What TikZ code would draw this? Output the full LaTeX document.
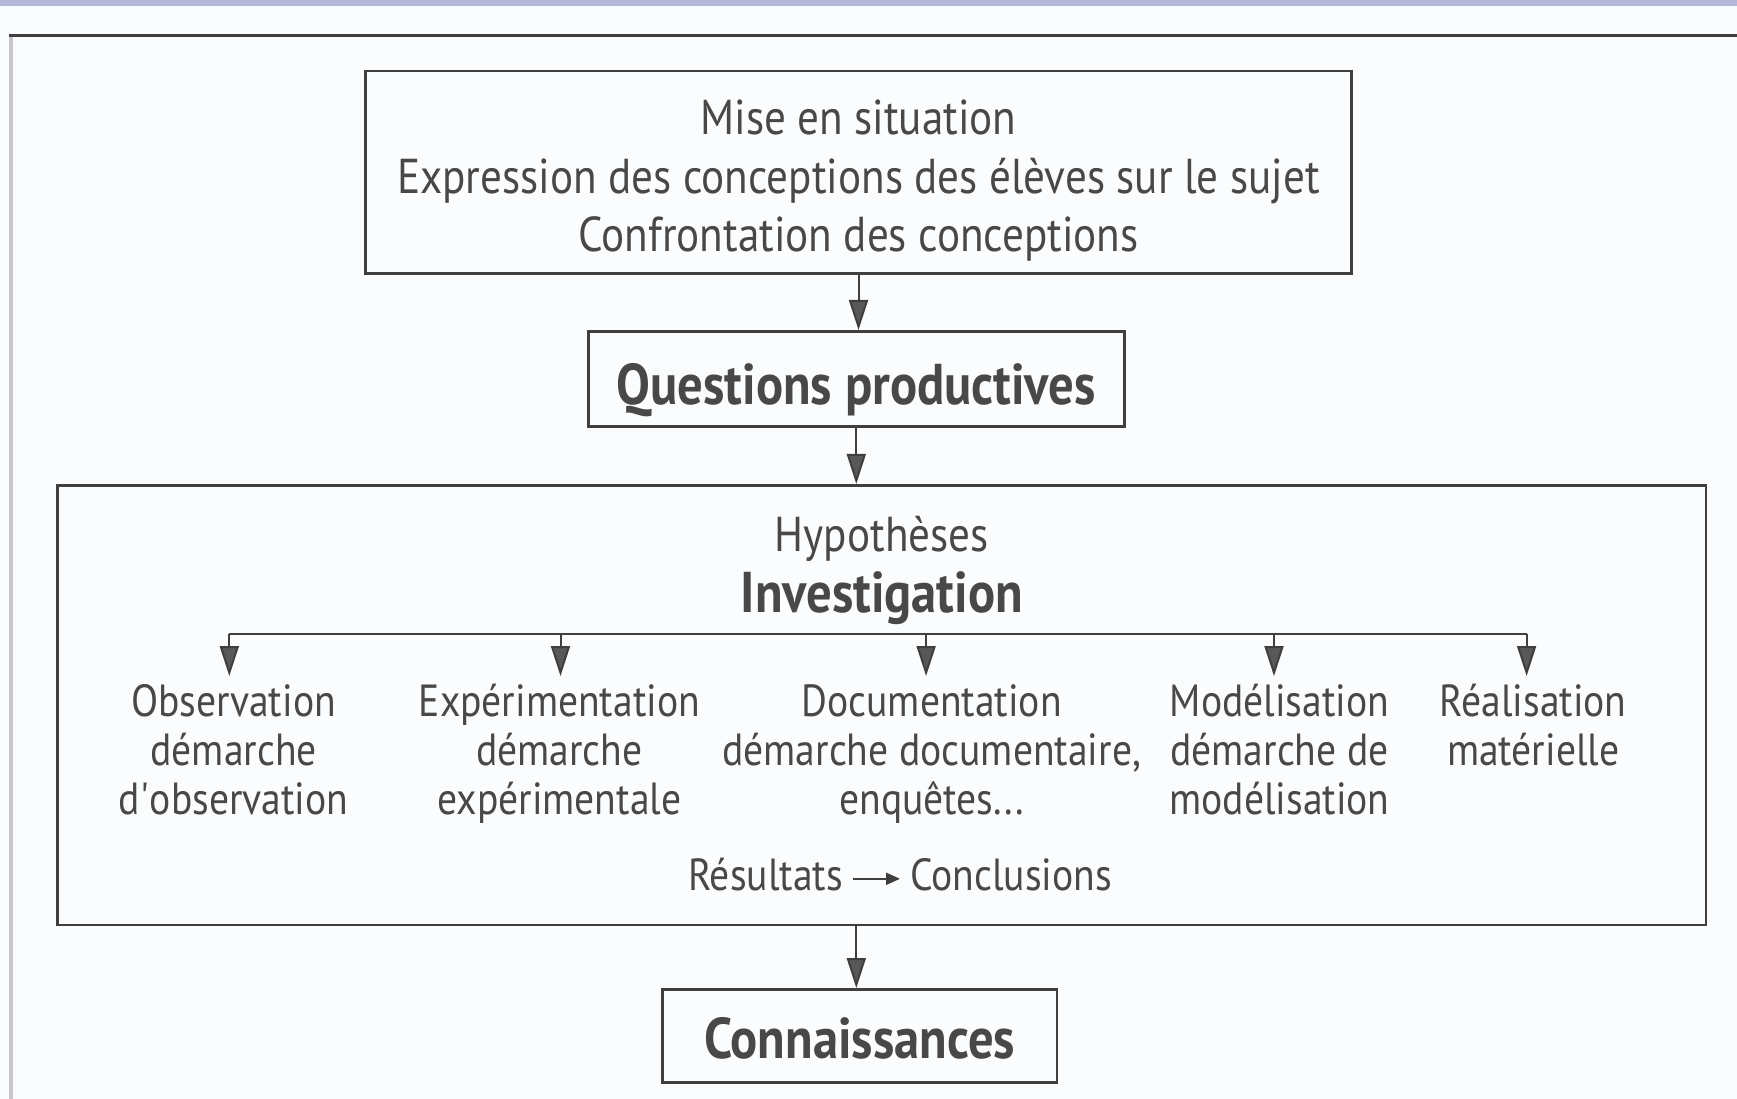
\documentclass[tikz,border=0pt]{standalone}
\usepackage{fontspec}
\setmainfont{PT Sans}[FakeStretch=0.88]
\usetikzlibrary{arrows.meta}
\definecolor{ink}{HTML}{3F3F3F}
\definecolor{txt}{HTML}{484848}
\definecolor{paper}{HTML}{FAFCFD}
\definecolor{band}{HTML}{B4B7D7}
\definecolor{side}{HTML}{C6C6CC}
\definecolor{headfill}{HTML}{585858}
\newcommand\colstrut{\rule{0pt}{42pt}}
\newcommand\topstrut{\rule{0pt}{45pt}}
\begin{document}
\begin{tikzpicture}[x=1pt,y=-1pt,
  box/.style={draw=ink, line width=2.6pt, inner sep=0pt},
  big/.style={text=txt, font=\fontsize{49}{58.7}\selectfont, align=center, inner sep=0pt},
  col/.style={text=txt, font=\fontsize{45}{48.7}\selectfont, align=center, inner xsep=0pt, inner ysep=-1.4pt, anchor=north},
  small/.style={text=txt, font=\fontsize{45}{48.7}\selectfont, text height=24pt, text depth=0pt, inner ysep=0pt},
  hd/.style={text=txt, font=\fontsize{57.5}{64}\selectfont\bfseries, inner sep=0pt},
  arr/.style={draw=ink, line width=2pt, -{Triangle[length=30pt,width=19pt,fill=headfill]}},
  link/.style={draw=ink, line width=2pt}
]
\fill[paper] (0,0) rectangle (1737,1099);
\useasboundingbox (0,0) rectangle (1737,1099);
\fill[band] (0,0) rectangle (1737,6.5);
\draw[side, line width=4pt] (11,35.5) -- (11,1099);
\draw[ink, line width=2.2pt] (9,35.5) -- (1737,35.5);

% boxes
\node[box, minimum width=986pt, minimum height=202.7pt] (sit) at (858.5,172.2) {};
\node[box, minimum width=536.2pt, minimum height=95.3pt] (qp) at (856.3,378.9) {};
\node[box, minimum width=1648.4pt, minimum height=439.8pt] (inv) at (881.8,705.1) {};
\node[box, minimum width=394.3pt, minimum height=93pt] (con) at (859.7,1035.8) {};

% box texts
\node[big, anchor=north] (sitt) at (858.5,89.2)
  {\topstrut Mise en situation\\Expression des conceptions des élèves sur le sujet\\Confrontation des conceptions};
\node[hd, anchor=base] (qpt) at (856.3,404) {Questions productives};
\node[big, anchor=base] (hyp) at (881.8,551.4) {Hypothèses};
\node[hd, anchor=base] (invt) at (881.8,612) {Investigation};
\node[hd, anchor=base] (cont) at (859.7,1058.5) {Connaissances};

% branches
\coordinate (br0) at (229.3,633.7);
\coordinate (br1) at (560.5,633.7);
\coordinate (br2) at (926.1,633.7);
\coordinate (br3) at (1274.0,633.7);
\coordinate (br4) at (1526.6,633.7);
\draw[link] (br0) -- (br4);

\node[col] (obs) at (233.7,676) {\colstrut Observation\\démarche\\d\textquotesingle observation};
\node[col] (exp) at (559.4,676) {\colstrut Expérimentation\\démarche\\expérimentale};
\node[col] (doc) at (931.7,676) {\colstrut Documentation\\démarche documentaire,\\enquêtes...};
\node[col] (mod) at (1279.5,676) {\colstrut Modélisation\\démarche de\\modélisation};
\node[col] (rea) at (1533.2,676) {\colstrut Réalisation\\matérielle};

\draw[arr] (br0) -- (br0 |- obs.north);
\draw[arr] (br1) -- (br1 |- exp.north);
\draw[arr] (br2) -- (br2 |- doc.north);
\draw[arr] (br3) -- (br3 |- mod.north);
\draw[arr] (br4) -- (br4 |- rea.north);

% results
\node[small, anchor=east, inner xsep=10pt] (res) at (853,878.8) {Résultats};
\node[small, anchor=west, inner xsep=10pt] (conc) at (900,878.8) {Conclusions};
\draw[draw=ink, line width=2.2pt, -{Triangle[length=14pt,width=12pt]}] (res.east) -- (conc.west);

% main flow
\draw[arr] (sit.south) -- (sit.south |- qp.north);
\draw[arr] (qp.south) -- (qp.south |- inv.north);
\draw[arr] (qp.south |- inv.south) -- (qp.south |- con.north);
\end{tikzpicture}
\end{document}
